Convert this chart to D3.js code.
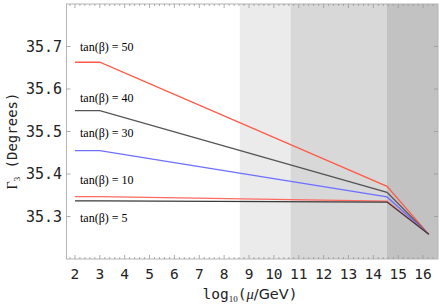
<!DOCTYPE html>
<html>
<head>
<meta charset="utf-8">
<script src="https://cdn.jsdelivr.net/npm/d3@7"></script>
<style>
  body { margin: 0; background: #fff; }
  svg { display: block; }
</style>
</head>
<body>
<div id="chart"></div>
<script>
// scale points (log10 of mu in GeV)
var muPoints = [2, 3, 14.55, 16.23];

// Gamma_3 values for each tan(beta)
var tan50 = [35.663, 35.663, 35.371, 35.258];
var tan40 = [35.549, 35.549, 35.357, 35.258];
var tan30 = [35.455, 35.455, 35.346, 35.258];
var tan10 = [35.347, 35.347, 35.336, 35.258];
var tan5  = [35.337, 35.337, 35.334, 35.258];

var seriesNames = ["tan(β) = 50", "tan(β) = 40", "tan(β) = 30", "tan(β) = 10", "tan(β) = 5"];
var seriesValues = [tan50, tan40, tan30, tan10, tan5];
var seriesColors = ["#ff5a48", "#555555", "#6f6fff", "#ff6a62", "#3a3a3a"];
var labelValues = [35.7, 35.578, 35.497, 35.385, 35.297];  // where the tan(beta) labels sit

// shaded bands along the x axis
var bandStarts = [8.63, 10.67, 14.53];
var bandEnds   = [10.67, 14.53, 16.6];
var bandColors = ["#ebebeb", "#d8d8d8", "#c2c2c2"];

var xTicks = [2, 3, 4, 5, 6, 7, 8, 9, 10, 11, 12, 13, 14, 15, 16];
var yTicks = [35.3, 35.4, 35.5, 35.6, 35.7];

var W = 442, H = 305;
var pLeft = 66.5, pRight = 438, pTop = 4, pBottom = 259;

var svg = d3.select("#chart").append("svg")
    .attr("width", W)
    .attr("height", H);

var x = d3.scaleLinear().domain([1.66, 16.6]).range([pLeft, pRight]);
var y = d3.scaleLinear().domain([35.2, 35.8]).range([pBottom, pTop]);

// bands
svg.selectAll(".band")
  .data(bandStarts)
  .enter().append("rect")
    .attr("class", "band")
    .attr("x", function(d) { return x(d); })
    .attr("y", pTop)
    .attr("width", function(d, i) { return x(bandEnds[i]) - x(d); })
    .attr("height", pBottom - pTop)
    .attr("fill", function(d, i) { return bandColors[i]; });

// frame
svg.append("rect")
    .attr("x", pLeft)
    .attr("y", pTop)
    .attr("width", pRight - pLeft)
    .attr("height", pBottom - pTop)
    .attr("fill", "none")
    .attr("stroke", "#b4b4b4")
    .attr("stroke-width", 1);

// minor + major ticks on top and bottom, pointing inward
var minor = d3.range(1.8, 16.6, 0.2).filter(function(v) { return Math.abs(v - Math.round(v)) > 0.01; });
var tickG = svg.append("g").attr("stroke", "#999").attr("stroke-width", 0.8);
xTicks.forEach(function(t) {
  tickG.append("line").attr("x1", x(t)).attr("x2", x(t)).attr("y1", pBottom).attr("y2", pBottom - 4);
  tickG.append("line").attr("x1", x(t)).attr("x2", x(t)).attr("y1", pTop).attr("y2", pTop + 4);
});
minor.forEach(function(t) {
  tickG.append("line").attr("x1", x(t)).attr("x2", x(t)).attr("y1", pBottom).attr("y2", pBottom - 2);
  tickG.append("line").attr("x1", x(t)).attr("x2", x(t)).attr("y1", pTop).attr("y2", pTop + 2);
});
yTicks.forEach(function(t) {
  tickG.append("line").attr("x1", pLeft).attr("x2", pLeft + 4).attr("y1", y(t)).attr("y2", y(t));
  tickG.append("line").attr("x1", pRight).attr("x2", pRight - 4).attr("y1", y(t)).attr("y2", y(t));
});

// tick labels
svg.selectAll(".xlab")
  .data(xTicks)
  .enter().append("text")
    .attr("x", function(d) { return x(d); })
    .attr("y", 279)
    .attr("text-anchor", "middle")
    .style("font-family", "DejaVu Sans Mono")
    .style("font-size", "14.5px")
    .attr("fill", "#222")
    .text(function(d) { return d; });

svg.selectAll(".ylab")
  .data(yTicks)
  .enter().append("text")
    .attr("x", 62)
    .attr("y", function(d) { return y(d) + 5; })
    .attr("text-anchor", "end")
    .style("font-family", "DejaVu Sans Mono")
    .style("font-size", "15px")
    .attr("fill", "#222")
    .text(function(d) { return d.toFixed(1); });

// lines
var line = d3.line()
    .x(function(d, i) { return x(muPoints[i]); })
    .y(function(d) { return y(d); });

svg.selectAll(".series")
  .data(seriesValues)
  .enter().append("path")
    .attr("class", "series")
    .attr("d", line)
    .attr("fill", "none")
    .attr("stroke", function(d, i) { return seriesColors[i]; })
    .attr("stroke-width", 1.3);

// tan(beta) labels
svg.selectAll(".slab")
  .data(seriesNames)
  .enter().append("text")
    .attr("x", 80)
    .attr("y", function(d, i) { return y(labelValues[i]) + 4; })
    .style("font-family", "Liberation Serif")
    .style("font-size", "12px")
    .attr("fill", "#000")
    .text(function(d) { return d; });

// axis titles
var xt = svg.append("text")
    .attr("x", 250)
    .attr("y", 299)
    .attr("text-anchor", "middle")
    .style("font-family", "DejaVu Sans Mono")
    .style("font-size", "14.5px")
    .attr("fill", "#222");
xt.append("tspan").text("log");
xt.append("tspan").attr("dy", 3).style("font-size", "9px").style("font-family", "Liberation Serif").text("10");
xt.append("tspan").attr("dy", -3).text("(");
xt.append("tspan").style("font-family", "Liberation Serif").style("font-style", "italic").text("μ");
xt.append("tspan").style("font-family", "DejaVu Sans").text("/GeV");
xt.append("tspan").text(")");

var yt = svg.append("text")
    .attr("transform", "translate(17,141) rotate(-90)")
    .attr("text-anchor", "middle")
    .style("font-family", "DejaVu Sans Mono")
    .style("font-size", "14px")
    .attr("fill", "#222");
yt.append("tspan").style("font-family", "Liberation Serif").text("Γ");
yt.append("tspan").attr("dy", 3).style("font-size", "9px").style("font-family", "Liberation Serif").text("3");
yt.append("tspan").attr("dy", -3).text(" (Degrees)");
</script>
</body>
</html>
